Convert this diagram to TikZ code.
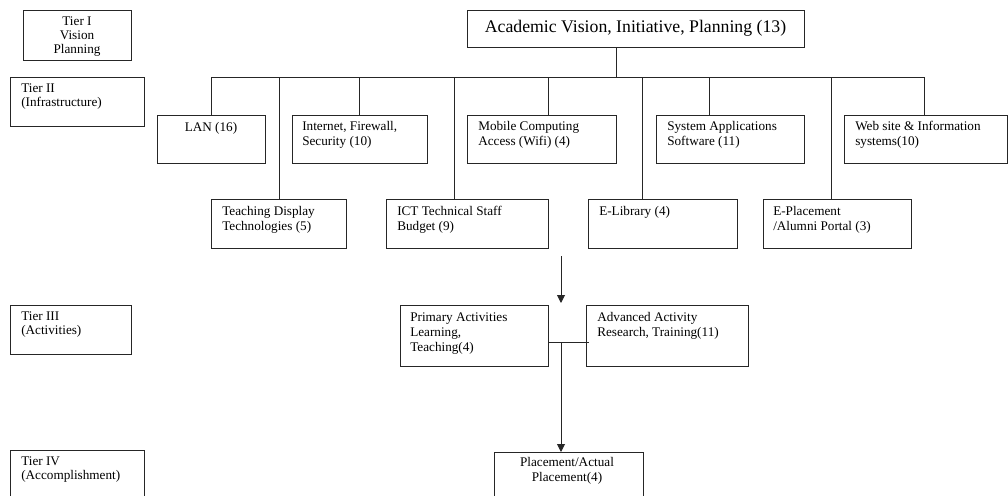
\documentclass[tikz,border=0pt]{standalone}
\usepackage{fontspec}
\setmainfont{Liberation Serif}
\usetikzlibrary{arrows.meta}
\newcommand\mybox[5]{\node[box, anchor=north west, minimum width={(#4-#2)*0.75pt}, minimum height={(#5-#3)*0.75pt}] (#1) at (#2,#3) {};}
\begin{document}
\begin{tikzpicture}[x=0.75pt,y=-0.75pt,
  box/.style={draw=black!85, line width=0.7pt, inner sep=0pt, outer sep=0pt},
  txt/.style={inner sep=0pt, anchor=north west, align=left, font=\fontsize{9.9}{11.4}\selectfont},
  ltxt/.style={txt, font=\fontsize{9.9}{10.7}\selectfont},
  ctxt/.style={inner sep=0pt, anchor=north, align=center, font=\fontsize{9.9}{11.4}\selectfont},
  conn/.style={draw=black!85, line width=0.7pt},
  arr/.style={conn, -{Triangle[width=6pt,length=6pt]}}
]
\useasboundingbox (0,0) rectangle (1008,496);
% boxes
\mybox{t1}{23}{10}{131}{60}
\mybox{t2}{10}{77}{144}{126}
\mybox{acad}{467}{10}{804}{47}
\mybox{lan}{157}{115}{265}{163}
\mybox{inet}{292}{115}{427}{163}
\mybox{mob}{467}{115}{616}{163}
\mybox{sys}{656}{115}{804}{163}
\mybox{web}{844}{115}{1007}{163}
\mybox{teach}{211}{199}{346}{248}
\mybox{ict}{386}{199}{548}{248}
\mybox{elib}{588}{199}{737}{248}
\mybox{eplac}{763}{199}{911}{248}
\mybox{t3}{10}{305}{131}{354}
\mybox{prim}{400}{305}{548}{366}
\mybox{adv}{586}{305}{748}{366}
\mybox{t4}{10}{450}{144}{502}
\mybox{plac}{494}{452}{643}{502}
% texts
\node[ctxt, font=\fontsize{9.9}{10.5}\selectfont] (t1txt) at (77,16) {Tier I\\Vision\\Planning};
\node[ltxt] (t2txt) at (21,83) {Tier II\\(Infrastructure)};
\node[inner sep=0pt, font=\fontsize{13.3}{15}\selectfont] (acadtxt) at (635.5,28) {Academic Vision, Initiative, Planning (13)};
\node[inner sep=0pt, font=\fontsize{9.9}{11.4}\selectfont] (lantxt) at (211,128) {LAN (16)};
\node[txt] (inettxt) at (302,121) {Internet, Firewall,\\Security (10)};
\node[txt] (mobtxt) at (478,121) {Mobile Computing\\Access (Wifi) (4)};
\node[txt] (systxt) at (667,121) {System Applications\\Software (11)};
\node[txt] (webtxt) at (855,121) {Web site \& Information\\systems(10)};
\node[txt] (teachtxt) at (222,206) {Teaching Display\\Technologies (5)};
\node[txt] (icttxt) at (397,206) {ICT Technical Staff\\Budget (9)};
\node[txt] (elibtxt) at (599,206) {E-Library (4)};
\node[txt] (eplactxt) at (773,206) {E-Placement\\/Alumni Portal (3)};
\node[ltxt] (t3txt) at (21,311) {Tier III\\(Activities)};
\node[txt] (primtxt) at (410,312) {Primary Activities\\Learning,\\Teaching(4)};
\node[txt] (advtxt) at (597,312) {Advanced Activity\\Research, Training(11)};
\node[ltxt] (t4txt) at (21,456) {Tier IV\\(Accomplishment)};
\node[ctxt] (plactxt) at (567,457) {Placement/Actual\\Placement(4)};
% connectors
\coordinate (bus) at (616,77);
\coordinate (d1) at (211,77);
\coordinate (d2) at (279,77);
\coordinate (d3) at (359,77);
\coordinate (d4) at (454,77);
\coordinate (d5) at (548,77);
\coordinate (d6) at (642,77);
\coordinate (d7) at (709,77);
\coordinate (d8) at (831,77);
\coordinate (d9) at (924,77);
\draw[conn] (bus |- acad.south) -- (bus);
\draw[conn] (d1) -- (d9);
\draw[conn] (d1) -- (d1 |- lan.north);
\draw[conn] (d2) -- (d2 |- teach.north);
\draw[conn] (d3) -- (d3 |- inet.north);
\draw[conn] (d4) -- (d4 |- ict.north);
\draw[conn] (d5) -- (d5 |- mob.north);
\draw[conn] (d6) -- (d6 |- elib.north);
\draw[conn] (d7) -- (d7 |- sys.north);
\draw[conn] (d8) -- (d8 |- eplac.north);
\draw[conn] (d9) -- (d9 |- web.north);
\coordinate (a0) at (561,256);
\coordinate (a1) at (561,303);
\draw[arr] (a0) -- (a1);
\coordinate (j) at (561,342);
\draw[conn] (prim.east |- j) -- ([xshift=2.5pt]adv.west |- j);
\draw[arr] (j) -- (j |- plac.north);
\end{tikzpicture}
\end{document}
